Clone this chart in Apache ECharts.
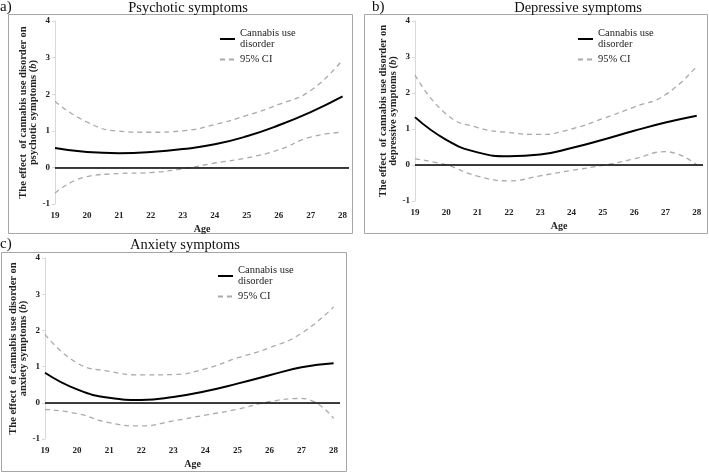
<!DOCTYPE html>
<html>
<head>
<meta charset="utf-8">
<script src="https://cdn.jsdelivr.net/npm/echarts@6/dist/echarts.min.js"></script>
<style>
  body { margin: 0; background: #fff; }
  #main { width: 709px; height: 473px; }
</style>
</head>
<body>
<div id="main"></div>
<script>
// ages on the x axis
const ages = [19, 20, 21, 22, 23, 24, 25, 26, 27, 28]
const yTicks = [-1, 0, 1, 2, 3, 4]

// a) psychotic symptoms
const psyEst = [0.53, 0.42, 0.39, 0.42, 0.50, 0.63, 0.85, 1.15, 1.51, 1.94]
const psyUp = [1.80, 1.24, 0.99, 0.96, 1.00, 1.17, 1.42, 1.72, 2.10, 2.94]
const psyLow = [-0.70, -0.25, -0.17, -0.14, -0.04, 0.12, 0.26, 0.48, 0.83, 0.96]

// b) depressive symptoms
const depEst = [1.33, 0.70, 0.35, 0.24, 0.29, 0.47, 0.70, 0.95, 1.18, 1.37]
const depUp = [2.50, 1.41, 1.04, 0.90, 0.85, 1.00, 1.29, 1.61, 1.95, 2.75]
const depLow = [0.17, 0.00, -0.31, -0.44, -0.30, -0.15, -0.01, 0.17, 0.37, 0.00]

// c) anxiety symptoms
const anxEst = [0.83, 0.37, 0.14, 0.08, 0.16, 0.32, 0.53, 0.76, 0.98, 1.09]
const anxUp = [1.89, 1.10, 0.87, 0.77, 0.78, 0.94, 1.24, 1.52, 1.92, 2.65]
const anxLow = [-0.18, -0.30, -0.55, -0.64, -0.50, -0.34, -0.18, 0.03, 0.12, -0.43]

const serif = 'Liberation Serif'
const pair = (vals) => ages.map((a, i) => [a, vals[i]])

const panels = [
  { tag: 'a)', title: 'Psychotic symptoms', name: 'psychotic symptoms', est: psyEst, up: psyUp, low: psyLow,
    grid: { left: 55, top: 21, width: 294, height: 183 }, box: [8, 14, 344, 219], tagPos: [0, 0], titleX: 188, titleY: 1, legend: [219, 28] },
  { tag: 'b)', title: 'Depressive symptoms', name: 'depressive symptoms', est: depEst, up: depUp, low: depLow,
    grid: { left: 415, top: 21, width: 288, height: 180 }, box: [364, 14, 343, 219], tagPos: [372, 0], titleX: 578, titleY: 1, legend: [577, 28] },
  { tag: 'c)', title: 'Anxiety symptoms', name: 'anxiety symptoms', est: anxEst, up: anxUp, low: anxLow,
    grid: { left: 45, top: 258, width: 295, height: 181 }, box: [1, 252, 345, 219], tagPos: [0, 237], titleX: 185, titleY: 238, legend: [217, 265] }
]

const option = {
  backgroundColor: '#fff',
  animation: false,
  title: [],
  legend: [],
  grid: [],
  xAxis: [],
  yAxis: [],
  series: [],
  graphic: []
}

panels.forEach((p, k) => {
  option.graphic.push({
    type: 'rect',
    shape: { x: p.box[0] + 0.5, y: p.box[1] + 0.5, width: p.box[2], height: p.box[3] },
    style: { fill: 'none', stroke: '#a6a6a6', lineWidth: 1 },
    z: -1
  })
  option.title.push({
    text: p.tag, left: p.tagPos[0], top: p.tagPos[1], padding: 0,
    textStyle: { fontFamily: serif, fontSize: 15, fontWeight: 'normal', color: '#111' }
  })
  option.title.push({
    text: p.title, left: p.titleX, top: p.titleY, textAlign: 'center', padding: 0,
    textStyle: { fontFamily: serif, fontSize: 14.5, fontWeight: 'normal', color: '#111' }
  })
  option.grid.push(p.grid)
  option.xAxis.push({
    type: 'value', gridIndex: k, min: 19, max: 28.2, interval: 1,
    name: 'Age', nameLocation: 'middle', nameGap: 20,
    nameTextStyle: { fontFamily: serif, fontSize: 10, fontWeight: 'bold', color: '#222' },
    axisLine: { show: true, lineStyle: { color: '#d9d9d9', width: 1 } },
    axisTick: { show: false },
    splitLine: { show: false },
    axisLabel: {
      fontFamily: serif, fontSize: 9, fontWeight: 'bold', color: '#222', margin: 7,
      formatter: (v) => (Number.isInteger(v) ? String(v) : '')
    }
  })
  option.yAxis.push({
    type: 'value', gridIndex: k, min: yTicks[0], max: yTicks[yTicks.length - 1], interval: 1,
    name: 'The effect  of cannabis use disorder on\n' + p.name + ' ({i|b})',
    nameLocation: 'middle', nameGap: 16, nameRotate: 90,
    nameTextStyle: {
      fontFamily: serif, fontSize: 10.5, fontWeight: 'bold', color: '#222', lineHeight: 10, align: 'center',
      rich: { i: { fontFamily: serif, fontSize: 10.5, fontWeight: 'bold', fontStyle: 'italic', color: '#222' } }
    },
    axisLine: { show: true, lineStyle: { color: '#d9d9d9', width: 1 } },
    axisTick: { show: true, length: 3, lineStyle: { color: '#d9d9d9' } },
    splitLine: { show: false },
    axisLabel: { fontFamily: serif, fontSize: 9, fontWeight: 'bold', color: '#222', margin: 5 }
  })
  option.legend.push({
    left: p.legend[0], top: p.legend[1], orient: 'vertical', padding: 0,
    itemWidth: 15, itemHeight: 10, itemGap: 4,
    itemStyle: { opacity: 0 },
    data: ['Cannabis use disorder', '95% CI'],
    formatter: (n) => (n === 'Cannabis use disorder' ? 'Cannabis use\ndisorder' : n),
    textStyle: { fontFamily: serif, fontSize: 10.5, color: '#222', lineHeight: 11, verticalAlign: 'top', padding: [-5, 0, 0, 0] },
    selectedMode: false
  })
  option.series.push({
    name: 'Cannabis use disorder', type: 'line', xAxisIndex: k, yAxisIndex: k,
    data: pair(p.est), smooth: 0.5, symbol: 'none',
    lineStyle: { color: '#000', width: 2 }, itemStyle: { color: '#000' }, z: 3,
    markLine: {
      silent: true, symbol: 'none', label: { show: false },
      lineStyle: { color: '#000', width: 1.5, type: 'solid' },
      data: [{ yAxis: 0 }]
    }
  })
  ;[p.up, p.low].forEach((vals) => {
    option.series.push({
      name: '95% CI', type: 'line', xAxisIndex: k, yAxisIndex: k,
      data: pair(vals), smooth: 0.5, symbol: 'none',
      lineStyle: { color: '#aaaaaa', width: 1.3, type: [5, 4] }, itemStyle: { color: '#aaaaaa' }, z: 2
    })
  })
})

const chart = echarts.init(document.getElementById('main'))
chart.setOption(option)
</script>
</body>
</html>
